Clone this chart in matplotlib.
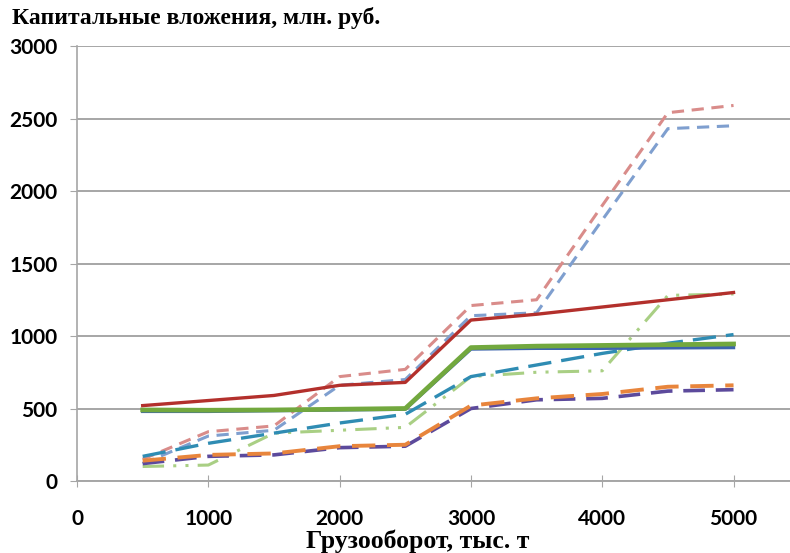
import matplotlib.pyplot as plt

# Данные (оценка по рисунку)
x = [500, 1000, 1500, 2000, 2500, 3000, 3500, 4000, 4500, 5000]

red_solid = [520, 555, 590, 660, 680, 1110, 1150, 1200, 1250, 1300]
blue_solid = [480, 480, 485, 490, 495, 910, 915, 915, 918, 920]
green_solid = [490, 488, 490, 495, 500, 920, 930, 935, 940, 945]
red_dash = [150, 340, 380, 720, 770, 1210, 1250, 1900, 2540, 2590]
blue_dash = [120, 310, 350, 660, 700, 1140, 1160, 1800, 2430, 2450]
teal_dash = [170, 260, 330, 400, 460, 720, 800, 880, 950, 1010]
lgreen_dashdot = [100, 110, 330, 350, 370, 720, 750, 760, 1280, 1290]
purple_dash = [120, 170, 180, 230, 240, 500, 560, 570, 620, 630]
orange_dash = [140, 180, 190, 240, 250, 520, 570, 600, 650, 660]

fig = plt.figure(figsize=(7.9, 5.53), dpi=100)
ax = fig.add_axes([0.0975, 0.1302, 0.9025, 0.7866])

ax.plot(x, red_dash, color='#d98c8a', lw=2.2, dashes=(4, 2.5))
ax.plot(x, blue_dash, color='#7f9fcf', lw=2.2, dashes=(4, 2.5))
ax.plot(x, lgreen_dashdot, color='#a9cf84', lw=2.2, dashes=(7, 3, 1, 3, 1, 3))
ax.plot(x, purple_dash, color='#5c4a9c', lw=2.6, dashes=(6, 3))
ax.plot(x, orange_dash, color='#e8853c', lw=2.8, dashes=(6, 3))
ax.plot(x, teal_dash, color='#2f8cb3', lw=2.4, dashes=(7, 3))
ax.plot(x, blue_solid, color='#3d64ad', lw=2.4)
ax.plot(x, green_solid, color='#72a83e', lw=3.4)
ax.plot(x, red_solid, color='#b3302c', lw=2.4)

ax.set_xlim(0, 5430)
ax.set_ylim(0, 3000)
ax.set_xticks([0, 1000, 2000, 3000, 4000, 5000])
ax.set_yticks([0, 500, 1000, 1500, 2000, 2500, 3000])

ax.grid(axis='y', color='#a6a6a6', lw=1.4)
ax.set_axisbelow(True)
for s in ['top', 'right']:
    ax.spines[s].set_visible(False)
ax.spines['left'].set_color('#a6a6a6')
ax.spines['bottom'].set_color('#a6a6a6')
ax.spines['left'].set_linewidth(1.2)
ax.spines['bottom'].set_linewidth(1.4)
ax.tick_params(axis='y', direction='out', length=5, color='#a6a6a6', pad=9)
ax.tick_params(axis='x', direction='inout', length=8, color='#a6a6a6', pad=16)

for lab in ax.get_xticklabels() + ax.get_yticklabels():
    lab.set_family('Lato')
    lab.set_fontweight('bold')
    lab.set_fontsize(15)

fig.text(0.015, 0.967, 'Капитальные вложения, млн. руб.', family='Liberation Serif',
         fontweight='bold', fontsize=17, ha='left', va='center')
fig.text(0.529, 0.022, 'Грузооборот, тыс. т', family='Liberation Serif',
         fontweight='bold', fontsize=18.5, ha='center', va='center')

fig.savefig('out.png', dpi=100)
